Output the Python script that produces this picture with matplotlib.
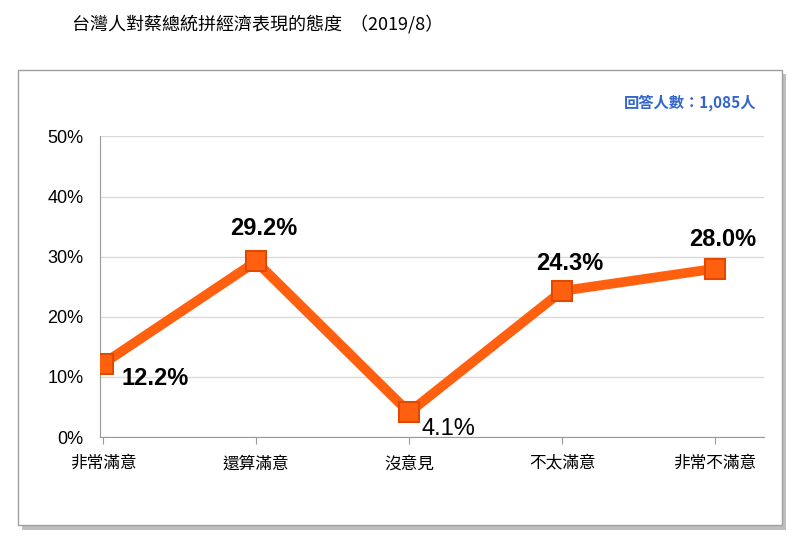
import matplotlib.pyplot as plt
from matplotlib.patches import Rectangle

plt.rcParams["font.family"] = ["Noto Sans CJK TC", "DejaVu Sans"]

categories = ["非常滿意", "還算滿意", "沒意見", "不太滿意", "非常不滿意"]
values = [12.2, 29.2, 4.1, 24.3, 28.0]
y_ticks = [0, 10, 20, 30, 40, 50]

fig = plt.figure(figsize=(8, 5.39), dpi=100)

# frame with shadow
fig.patches.append(Rectangle((0.028, 0.017), 0.955, 0.845, transform=fig.transFigure,
                             facecolor="#bfbfbf", edgecolor="none", zorder=0))
fig.patches.append(Rectangle((0.022, 0.026), 0.955, 0.845, transform=fig.transFigure,
                             facecolor="white", edgecolor="#a0a0a0", lw=1, zorder=1))

fig.text(0.09, 0.955, "台灣人對蔡總統拼經濟表現的態度  （2019/8）", fontsize=13,
         ha="left", va="center")
fig.text(0.945, 0.81, "回答人數：1,085人", fontsize=11, color="#3366cc",
         ha="right", va="center", fontweight="bold")

ax = fig.add_axes([0.125, 0.189, 0.83, 0.558])
ax.set_zorder(2)
ax.patch.set_alpha(0)
x = list(range(len(categories)))
ax.plot(x, values, color="#ff6010", lw=7, solid_capstyle="round", zorder=3)
ax.plot(x, values, "s", ms=14, color="#ff6010", mec="#e04a00", mew=1.5, zorder=4)

offsets = [(0.12, -2.5, "left"), (0.05, 5.5, "center"), (0.08, -2.7, "left"),
           (0.05, 4.5, "center"), (0.05, 4.8, "center")]
for i, v in enumerate(values):
    dx, dy, ha = offsets[i]
    weight = "normal" if i == 2 else "bold"
    ax.text(i + dx, v + dy, f"{v:.1f}%", fontsize=17, ha=ha, va="center",
            fontweight=weight, fontfamily="Liberation Sans")

ax.set_xlim(-0.02, 4.32)
ax.set_ylim(0, 50)
ax.set_yticks(y_ticks)
ax.set_yticklabels([f"{t}%" for t in y_ticks], fontsize=13, fontfamily="Liberation Sans")
ax.set_xticks(x)
ax.set_xticklabels(categories, fontsize=12)
ax.yaxis.grid(True, color="#d9d9d9", lw=1)
ax.set_axisbelow(True)
for s in ["top", "right"]:
    ax.spines[s].set_visible(False)
ax.spines["left"].set_color("#999999")
ax.spines["bottom"].set_color("#999999")
ax.tick_params(axis="y", length=0, pad=12)
ax.tick_params(axis="x", length=5, color="#999999", pad=8)

fig.savefig("out.png", dpi=100)
